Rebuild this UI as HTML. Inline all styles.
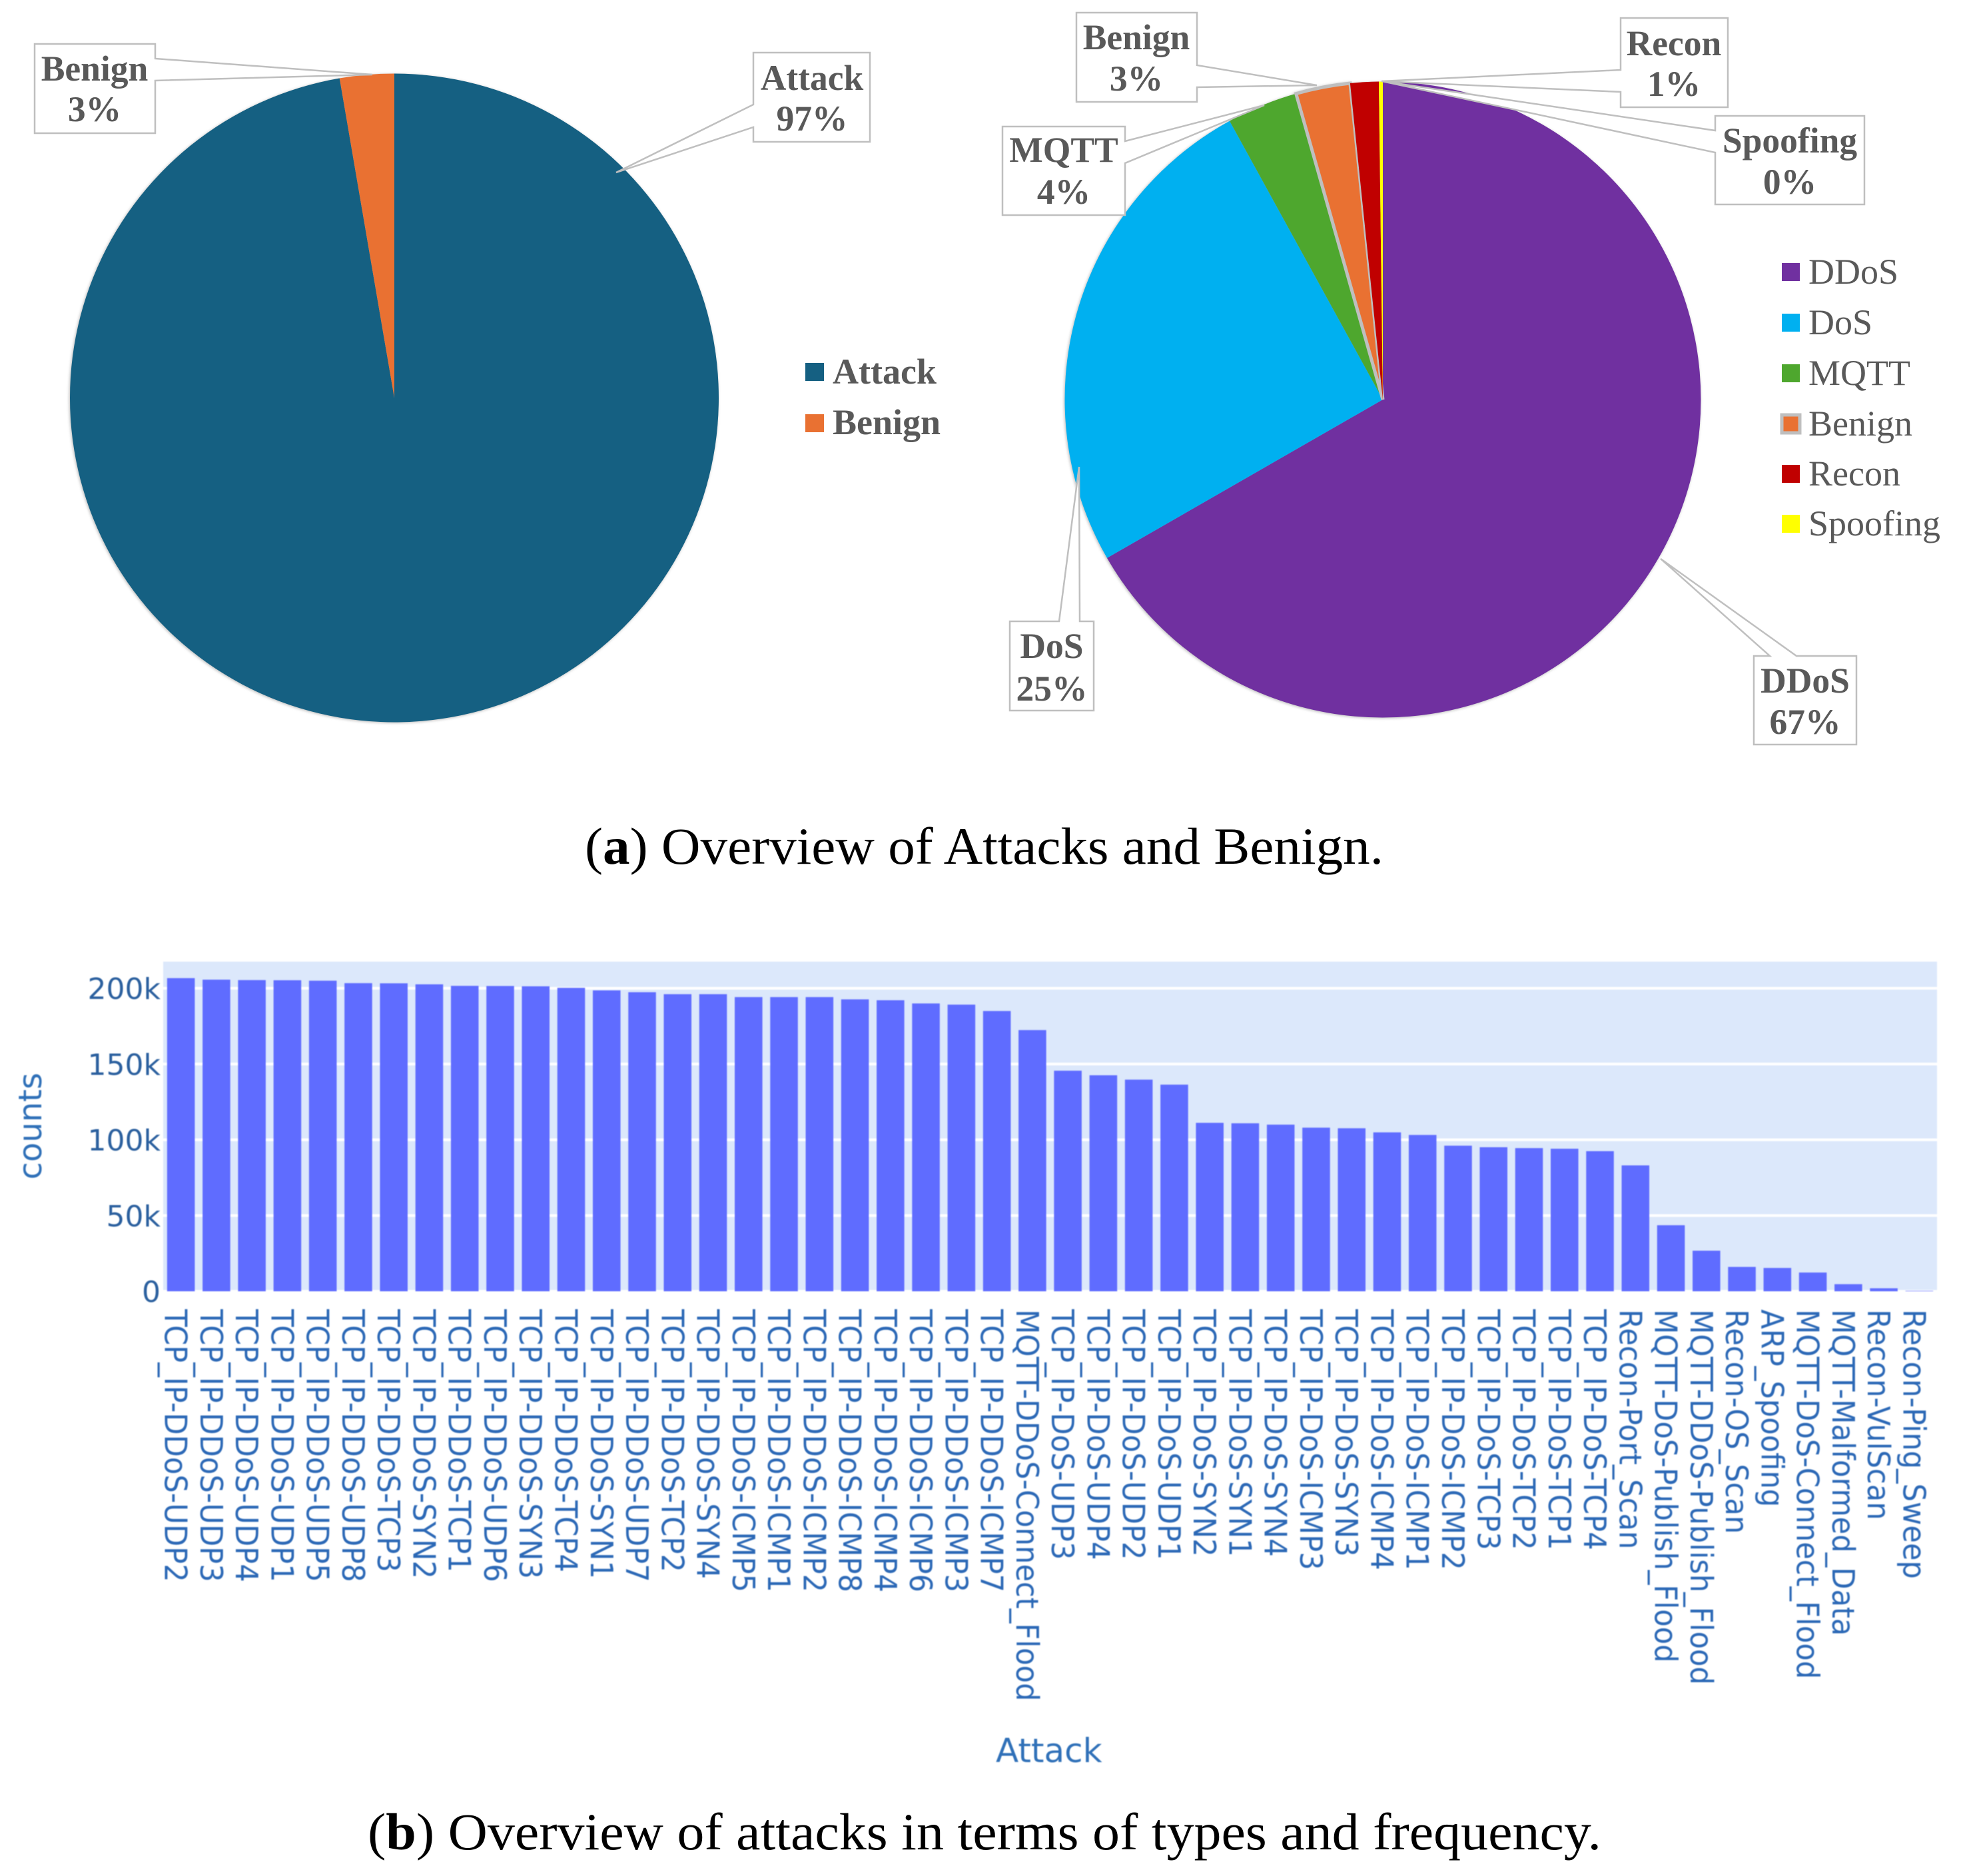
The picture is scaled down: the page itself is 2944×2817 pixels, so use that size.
<!DOCTYPE html>
<html lang="en">
<head>
<meta charset="utf-8">
<title>Overview of attacks and benign traffic</title>
<style>
html,body{margin:0;padding:0;background:#fff;}
svg{display:block;}
.callout-box{fill:#fff;stroke:#BFBFBF;stroke-width:2.5;stroke-linejoin:miter;}
.callout-text{font-family:"Liberation Serif",serif;font-weight:700;font-size:53.5px;fill:#595959;text-anchor:middle;}
.legend-bold{font-family:"Liberation Serif",serif;font-weight:700;font-size:54px;fill:#595959;}
.legend-reg{font-family:"Liberation Serif",serif;font-weight:400;font-size:54px;fill:#595959;}
.caption{font-family:"Liberation Serif",serif;font-size:78px;fill:#000;}
.ytick{font-family:"DejaVu Sans",sans-serif;font-size:44px;fill:#2a5f9e;text-anchor:end;}
.xtick{font-family:"DejaVu Sans",sans-serif;font-size:46px;fill:#2b68b6;}
.axis-title{font-family:"DejaVu Sans",sans-serif;fill:#2f70b8;}
.pie{filter:drop-shadow(-1px 1px 2px rgba(0,0,0,0.28));}
</style>
</head>
<body>
<svg id="root" xmlns="http://www.w3.org/2000/svg" width="2944" height="2817" viewBox="0 0 2944 2817">
  <rect x="0" y="0" width="2944" height="2817" fill="#fff"/>

  <g id="pie-a" class="pie"></g>
  <g id="pie-b" class="pie"></g>

  <g>
    <polygon class="callout-box" points="52,66 233,66 233,88 559,112 233,121 233,200 52,200"/>
    <text class="callout-text" x="142" y="121">Benign</text>
    <text class="callout-text" x="142" y="182">3%</text>
    <polygon class="callout-box" points="1131,79 1306,79 1306,213 1131,213 1131,191 925,259 1131,157"/>
    <text class="callout-text" x="1219" y="135">Attack</text>
    <text class="callout-text" x="1219" y="196">97%</text>
  </g>

  <g>
    <rect x="1209" y="545" width="28" height="27" fill="#156082"/>
    <text class="legend-bold" x="1250" y="576">Attack</text>
    <rect x="1209" y="622" width="28" height="27" fill="#E97132"/>
    <text class="legend-bold" x="1250" y="652">Benign</text>
  </g>

  <g>
    <polygon class="callout-box" points="2575,174 2799,174 2799,307 2575,307 2575,229 2075,122 2575,196"/>
    <text class="callout-text" x="2687" y="229">Spoofing</text>
    <text class="callout-text" x="2687" y="291">0%</text>
    <polygon class="callout-box" points="2433,27 2594,27 2594,161 2433,161 2433,138 2074,122 2433,105"/>
    <text class="callout-text" x="2513" y="83">Recon</text>
    <text class="callout-text" x="2513" y="144">1%</text>
    <polygon class="callout-box" points="1616,19 1797,19 1797,98 1977,128 1797,131 1797,153 1616,153"/>
    <text class="callout-text" x="1706" y="74">Benign</text>
    <text class="callout-text" x="1706" y="136">3%</text>
    <polygon class="callout-box" points="1505,190 1689,190 1689,212 1898,158 1689,245 1689,323 1505,323"/>
    <text class="callout-text" x="1597" y="243">MQTT</text>
    <text class="callout-text" x="1597" y="306">4%</text>
    <polygon class="callout-box" points="1516,933 1590,933 1620,701 1621,933 1642,933 1642,1067 1516,1067"/>
    <text class="callout-text" x="1579" y="988">DoS</text>
    <text class="callout-text" x="1579" y="1052">25%</text>
    <polygon class="callout-box" points="2633,985 2657,985 2493,839 2697,985 2787,985 2787,1118 2633,1118"/>
    <text class="callout-text" x="2710" y="1040">DDoS</text>
    <text class="callout-text" x="2710" y="1102">67%</text>
  </g>

  <g>
    <rect x="2675" y="395" width="27" height="27" fill="#7030A0"/>
    <text class="legend-reg" x="2715" y="426">DDoS</text>
    <rect x="2675" y="471" width="27" height="27" fill="#00B0F0"/>
    <text class="legend-reg" x="2715" y="502">DoS</text>
    <rect x="2675" y="547" width="27" height="27" fill="#4EA72E"/>
    <text class="legend-reg" x="2715" y="578">MQTT</text>
    <rect x="2675" y="623" width="27" height="27" fill="#E97132" stroke="#BFBFBF" stroke-width="5"/>
    <text class="legend-reg" x="2715" y="654">Benign</text>
    <rect x="2675" y="698" width="27" height="27" fill="#C00000"/>
    <text class="legend-reg" x="2715" y="729">Recon</text>
    <rect x="2675" y="773" width="27" height="27" fill="#FFFF00"/>
    <text class="legend-reg" x="2715" y="804">Spoofing</text>
  </g>

  <text class="caption" x="878" y="1297" textLength="1199" lengthAdjust="spacingAndGlyphs">(<tspan font-weight="700">a</tspan>) Overview of Attacks and Benign.</text>

  <g id="bar-chart" style="filter:blur(0.8px)">
    <rect x="245" y="1444" width="2663" height="496" fill="#DCE8FB"/>
    <g id="grid"></g>
    <g id="bars"></g>
    <g id="yticks"></g>
    <g id="xticks"></g>
    <text class="axis-title" font-size="48" text-anchor="middle" transform="translate(62,1691) rotate(-90)">counts</text>
    <text class="axis-title" font-size="50" x="1495" y="2646">Attack</text>
  </g>

  <text class="caption" x="552" y="2777" textLength="1852" lengthAdjust="spacingAndGlyphs">(<tspan font-weight="700">b</tspan>) Overview of attacks in terms of types and frequency.</text>
</svg>

<script>
var overviewCategories = ['Attack', 'Benign'];
var overviewShares = [97.3, 2.7];
var overviewColors = ['#156082', '#E97132'];

var typeCategories = ['DDoS', 'DoS', 'MQTT', 'Benign', 'Recon', 'Spoofing'];
var typeShares = [66.7, 25.3, 3.6, 2.76, 1.44, 0.2];
var typeColors = ['#7030A0', '#00B0F0', '#4EA72E', '#E97132', '#C00000', '#FFFF00'];

var attackNames = [
  'TCP_IP-DDoS-UDP2','TCP_IP-DDoS-UDP3','TCP_IP-DDoS-UDP4','TCP_IP-DDoS-UDP1','TCP_IP-DDoS-UDP5',
  'TCP_IP-DDoS-UDP8','TCP_IP-DDoS-TCP3','TCP_IP-DDoS-SYN2','TCP_IP-DDoS-TCP1','TCP_IP-DDoS-UDP6',
  'TCP_IP-DDoS-SYN3','TCP_IP-DDoS-TCP4','TCP_IP-DDoS-SYN1','TCP_IP-DDoS-UDP7','TCP_IP-DDoS-TCP2',
  'TCP_IP-DDoS-SYN4','TCP_IP-DDoS-ICMP5','TCP_IP-DDoS-ICMP1','TCP_IP-DDoS-ICMP2','TCP_IP-DDoS-ICMP8',
  'TCP_IP-DDoS-ICMP4','TCP_IP-DDoS-ICMP6','TCP_IP-DDoS-ICMP3','TCP_IP-DDoS-ICMP7','MQTT-DDoS-Connect_Flood',
  'TCP_IP-DoS-UDP3','TCP_IP-DoS-UDP4','TCP_IP-DoS-UDP2','TCP_IP-DoS-UDP1','TCP_IP-DoS-SYN2',
  'TCP_IP-DoS-SYN1','TCP_IP-DoS-SYN4','TCP_IP-DoS-ICMP3','TCP_IP-DoS-SYN3','TCP_IP-DoS-ICMP4',
  'TCP_IP-DoS-ICMP1','TCP_IP-DoS-ICMP2','TCP_IP-DoS-TCP3','TCP_IP-DoS-TCP2','TCP_IP-DoS-TCP1',
  'TCP_IP-DoS-TCP4','Recon-Port_Scan','MQTT-DoS-Publish_Flood','MQTT-DDoS-Publish_Flood','Recon-OS_Scan',
  'ARP_Spoofing','MQTT-DoS-Connect_Flood','MQTT-Malformed_Data','Recon-VulScan','Recon-Ping_Sweep'
];
var attackCounts = [
  206.7,205.7,205.4,205.3,205.0,203.4,203.3,202.6,201.6,201.5,
  201.3,200.3,198.6,197.4,196.1,196.1,194.2,194.2,194.2,192.7,
  192.1,190.0,189.2,185.0,172.4,145.6,142.6,139.7,136.4,111.2,
  110.9,110.0,108.0,107.6,104.9,103.2,96.1,95.1,94.5,94.1,
  92.5,83.1,43.6,26.8,16.1,15.4,12.4,4.7,2.0,0.3
];
var yTickValues = [0, 50, 100, 150, 200];
var yTickLabels = ['0', '50k', '100k', '150k', '200k'];

var NS = 'http://www.w3.org/2000/svg';

function yScale(v) { return 1939 - v / 200 * 455; }
function bandWidth() { return 2663 / attackNames.length; }
function xScale(i) { return 245 + (i + 0.5) * bandWidth(); }

function arcPath(cx, cy, r, a0, a1) {
  var x0 = cx + r * Math.sin(a0), y0 = cy - r * Math.cos(a0);
  var x1 = cx + r * Math.sin(a1), y1 = cy - r * Math.cos(a1);
  var large = (a1 - a0) > Math.PI ? 1 : 0;
  return 'M' + cx + ' ' + cy + 'L' + x0 + ' ' + y0 + 'A' + r + ' ' + r + ' 0 ' + large + ' 1 ' + x1 + ' ' + y1 + 'Z';
}

function drawPie(host, cats, shares, colors, cx, cy, r, outlined) {
  var total = shares.reduce(function (a, b) { return a + b; }, 0);
  var a = 0;
  for (var i = 0; i < shares.length; i++) {
    var next = a + shares[i] / total * Math.PI * 2;
    var p = document.createElementNS(NS, 'path');
    p.setAttribute('d', arcPath(cx, cy, r, a, next));
    p.setAttribute('fill', colors[i]);
    
    
    if (cats[i] === outlined) {
      p.setAttribute('stroke', '#BFBFBF');
      p.setAttribute('stroke-width', '5');
    }
    host.appendChild(p);
    a = next;
  }
}

drawPie(document.getElementById('pie-a'), overviewCategories, overviewShares, overviewColors, 592, 597.5, 487, null);
drawPie(document.getElementById('pie-b'), typeCategories, typeShares, typeColors, 2076, 600, 477.5, 'Benign');

var gridHost = document.getElementById('grid');
var yHost = document.getElementById('yticks');
yTickValues.forEach(function (v, i) {
  var line = document.createElementNS(NS, 'rect');
  line.setAttribute('x', 245);
  line.setAttribute('y', yScale(v) - 2);
  line.setAttribute('width', 2663);
  line.setAttribute('height', 4);
  line.setAttribute('fill', '#fff');
  
  
  gridHost.appendChild(line);

  var t = document.createElementNS(NS, 'text');
  t.setAttribute('class', 'ytick');
  t.setAttribute('x', 241);
  t.setAttribute('y', yScale(v) + 16);
  t.textContent = yTickLabels[i];
  
  
  yHost.appendChild(t);
});

var barHost = document.getElementById('bars');
var xHost = document.getElementById('xticks');
attackCounts.forEach(function (v, i) {
  var w = bandWidth() * 0.78;
  var b = document.createElementNS(NS, 'rect');
  b.setAttribute('x', xScale(i) - w / 2);
  b.setAttribute('y', yScale(v));
  b.setAttribute('width', w);
  b.setAttribute('height', yScale(0) - yScale(v));
  b.setAttribute('fill', '#5F6CFF');
  
  
  barHost.appendChild(b);

  var t = document.createElementNS(NS, 'text');
  t.setAttribute('class', 'xtick');
  t.setAttribute('transform', 'translate(' + (xScale(i) - 24) + ',1966) rotate(90) scale(0.94,1)');
  t.textContent = attackNames[i];
  
  
  xHost.appendChild(t);
});
</script>
</body>
</html>
